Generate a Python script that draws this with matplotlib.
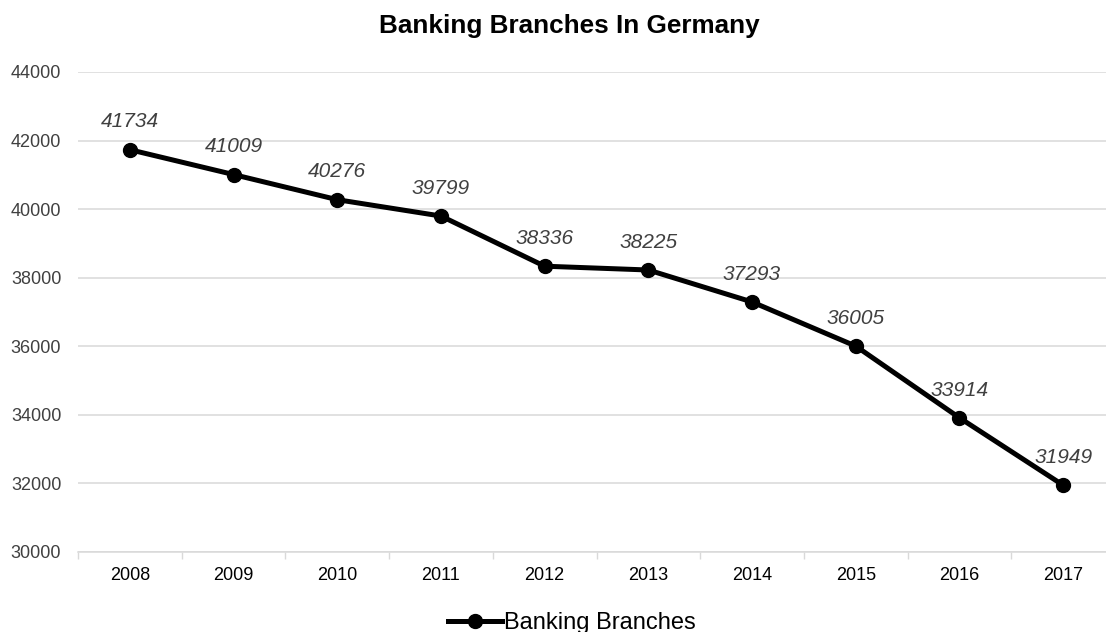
import matplotlib.pyplot as plt
import numpy as np

plt.rcParams['font.family'] = ['Liberation Sans', 'DejaVu Sans']

years = ['2008', '2009', '2010', '2011', '2012', '2013', '2014', '2015', '2016', '2017']
branches = [41734, 41009, 40276, 39799, 38336, 38225, 37293, 36005, 33914, 31949]
y_ticks = [30000, 32000, 34000, 36000, 38000, 40000, 42000, 44000]

fig = plt.figure(figsize=(11.06, 6.32), dpi=100)
# axes runs a bit past the right edge of the canvas
ax = fig.add_axes([78 / 1106, 1 - 552 / 632, 1037 / 1106, 480 / 632])

x = np.arange(len(years))
line, = ax.plot(x, branches, color='black', linewidth=3.6, marker='o',
                markersize=10, label='Banking Branches', zorder=3, clip_on=False)

for xi, v in zip(x, branches):
    ax.annotate(str(v), (xi, v), xytext=(0, 16), textcoords='offset points',
                ha='center', va='baseline', fontsize=15, style='italic',
                color='#404040')

ax.set_xlim(-0.5, len(years) - 0.5)
ax.set_ylim(30000, 44000)
ax.set_yticks(y_ticks)
ax.set_yticklabels([str(t) for t in y_ticks])
ax.set_xticks(x)
ax.set_xticklabels(years)
ax.set_xticks(np.arange(len(years) + 1) - 0.5, minor=True)

ax.tick_params(axis='y', length=0, pad=12, labelsize=13, labelcolor='#404040')
ax.tick_params(axis='x', which='major', length=0, pad=11, labelsize=13,
               labelcolor='black')
ax.tick_params(axis='x', which='minor', length=5, width=1, color='#d9d9d9')

ax.grid(axis='y', color='#d9d9d9', linewidth=1.1)
ax.set_axisbelow(True)
for side in ['top', 'right', 'left']:
    ax.spines[side].set_visible(False)
ax.spines['bottom'].set_color('#d9d9d9')
ax.spines['bottom'].set_linewidth(1.1)

fig.text(569 / 1106, 1 - 33 / 632, 'Banking Branches In Germany', ha='center',
         va='baseline', fontsize=18.8, fontweight='bold')

fig.legend(handles=[line], loc='center', bbox_to_anchor=(572 / 1106, 1 - 623 / 632),
           frameon=False, fontsize=17, handlelength=2.3, handletextpad=0.1,
           borderpad=0, borderaxespad=0)

fig.savefig('out.png', dpi=100)
